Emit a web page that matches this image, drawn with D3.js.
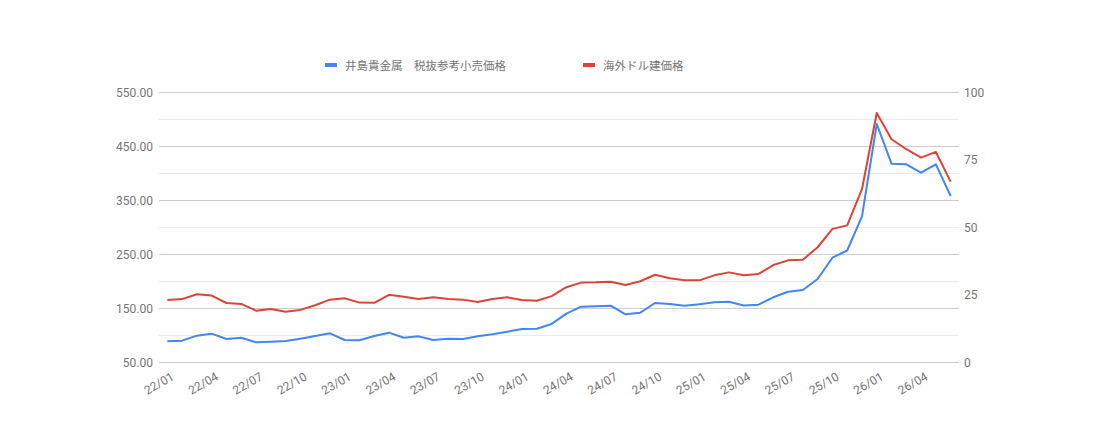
<!DOCTYPE html>
<html>
<head>
<meta charset="utf-8">
<script src="https://cdn.jsdelivr.net/npm/d3@7"></script>
<style>
  body { margin: 0; background: #fff; }
  .axis text { font-family: Roboto, "Noto Sans", sans-serif; font-size: 12px; fill: #757575; }
  .axis path { display: none; }
  .legend text { font-family: "Noto Sans CJK JP", sans-serif; font-size: 11.5px; fill: #757575; white-space: pre; }
</style>
</head>
<body>
<div id="chart"></div>
<script>
var months = ["22/01","22/02","22/03","22/04","22/05","22/06","22/07","22/08","22/09","22/10","22/11","22/12",
    "23/01","23/02","23/03","23/04","23/05","23/06","23/07","23/08","23/09","23/10","23/11","23/12",
    "24/01","24/02","24/03","24/04","24/05","24/06","24/07","24/08","24/09","24/10","24/11","24/12",
    "25/01","25/02","25/03","25/04","25/05","25/06","25/07","25/08","25/09","25/10","25/11","25/12",
    "26/01","26/02","26/03","26/04","26/05","26/06"];

// 井島貴金属 税抜参考小売価格 (left axis)
var retailPrice = [88.3, 89.5, 98.8, 102.5, 92.6, 95.0, 86.4, 87.6, 88.9, 93.2, 98.1, 103.1,
    90.7, 90.2, 98.1, 104.3, 95.0, 97.5, 90.7, 93.2, 92.6, 97.5, 101.2, 106.1,
    111.1, 111.7, 120.5, 139.5, 152.5, 153.1, 154.3, 138.3, 141.4, 159.3, 157.4, 154.3,
    156.8, 160.6, 161.7, 154.5, 156.2, 169.8, 180.2, 183.3, 203.7, 243.1, 256.5, 319.8,
    490.7, 417.2, 416.0, 400.6, 416.0, 357.4];

// 海外ドル建価格 (right axis)
var dollarPrice = [23.0, 23.3, 25.1, 24.6, 21.85, 21.5, 19.0, 19.6, 18.6, 19.3, 21.0, 23.1,
    23.6, 22.0, 21.9, 24.9, 24.2, 23.3, 23.95, 23.3, 23.1, 22.2, 23.3, 23.95,
    23.0, 22.7, 24.4, 27.7, 29.4, 29.5, 29.75, 28.5, 29.9, 32.3, 31.0, 30.25,
    30.25, 32.1, 33.2, 32.1, 32.6, 35.9, 37.65, 37.9, 42.5, 49.3, 50.6, 64.0,
    92.2, 82.5, 78.8, 75.7, 77.8, 66.8];

var leftTicks = [50, 150, 250, 350, 450, 550];
var leftMinor = [100, 200, 300, 400, 500];
var rightTicks = [0, 25, 50, 75, 100];

var seriesNames = ["井島貴金属\u3000税抜参考小売価格", "海外ドル建価格"];
var colors = ["#4285f4", "#db4437"];

var width = 1100, height = 448;
var margin = { top: 92, right: 141, bottom: 86, left: 159 };
var innerW = width - margin.left - margin.right,
    innerH = height - margin.top - margin.bottom;

var svg = d3.select("#chart").append("svg")
    .attr("width", width)
    .attr("height", height);

var g = svg.append("g")
    .attr("transform", "translate(" + margin.left + "," + margin.top + ")");

var x = d3.scalePoint().domain(months).range([0, innerW]).padding(0.565);
var yL = d3.scaleLinear().domain([50, 550]).range([innerH, 0]);
var yR = d3.scaleLinear().domain([0, 100]).range([innerH, 0]);

// minor gridlines
g.append("g")
    .attr("class", "axis")
    .call(d3.axisLeft(yL).tickValues(leftMinor).tickSize(-innerW).tickFormat(""))
    .selectAll("line").attr("stroke", "#ebebeb");

// major gridlines + left labels
var gl = g.append("g")
    .attr("class", "axis")
    .call(d3.axisLeft(yL).tickValues(leftTicks).tickSize(-innerW).tickPadding(6)
        .tickFormat(d3.format(".2f")));
gl.selectAll("line").attr("stroke", "#cccccc");
gl.selectAll("text").attr("dy", "0.35em");

// right labels
var gr = g.append("g")
    .attr("class", "axis")
    .attr("transform", "translate(" + innerW + ",0)")
    .call(d3.axisRight(yR).tickValues(rightTicks).tickSize(0).tickPadding(5));
gr.selectAll("text").attr("dy", "0.35em");

// x axis
var gx = g.append("g")
    .attr("class", "axis")
    .attr("transform", "translate(0," + innerH + ")")
    .call(d3.axisBottom(x).tickValues(months.filter(function (d, i) { return i % 3 === 0; })).tickSize(0));
gx.selectAll("text")
    .attr("text-anchor", "end")
    .attr("dy", null)
    .attr("y", 0)
    .attr("transform", "translate(7,17) rotate(-30)");

// lines
var lineL = d3.line()
    .x(function (d, i) { return x(months[i]); })
    .y(function (d) { return yL(d); });
var lineR = d3.line()
    .x(function (d, i) { return x(months[i]); })
    .y(function (d) { return yR(d); });

g.append("path")
    .datum(retailPrice)
    .attr("fill", "none")
    .attr("stroke", colors[0])
    .attr("stroke-width", 2)
    .attr("stroke-linejoin", "round")
    .attr("d", lineL);

g.append("path")
    .datum(dollarPrice)
    .attr("fill", "none")
    .attr("stroke", colors[1])
    .attr("stroke-width", 2)
    .attr("stroke-linejoin", "round")
    .attr("d", lineR);

// legend
var legendX = [325, 583];
var legend = svg.append("g").attr("class", "legend");
seriesNames.forEach(function (name, i) {
    legend.append("rect")
        .attr("x", legendX[i])
        .attr("y", 63)
        .attr("width", 12)
        .attr("height", 4)
        .attr("fill", colors[i]);
    legend.append("text")
        .attr("x", legendX[i] + 20)
        .attr("y", 70)
        .text(name);
});
</script>
</body>
</html>
